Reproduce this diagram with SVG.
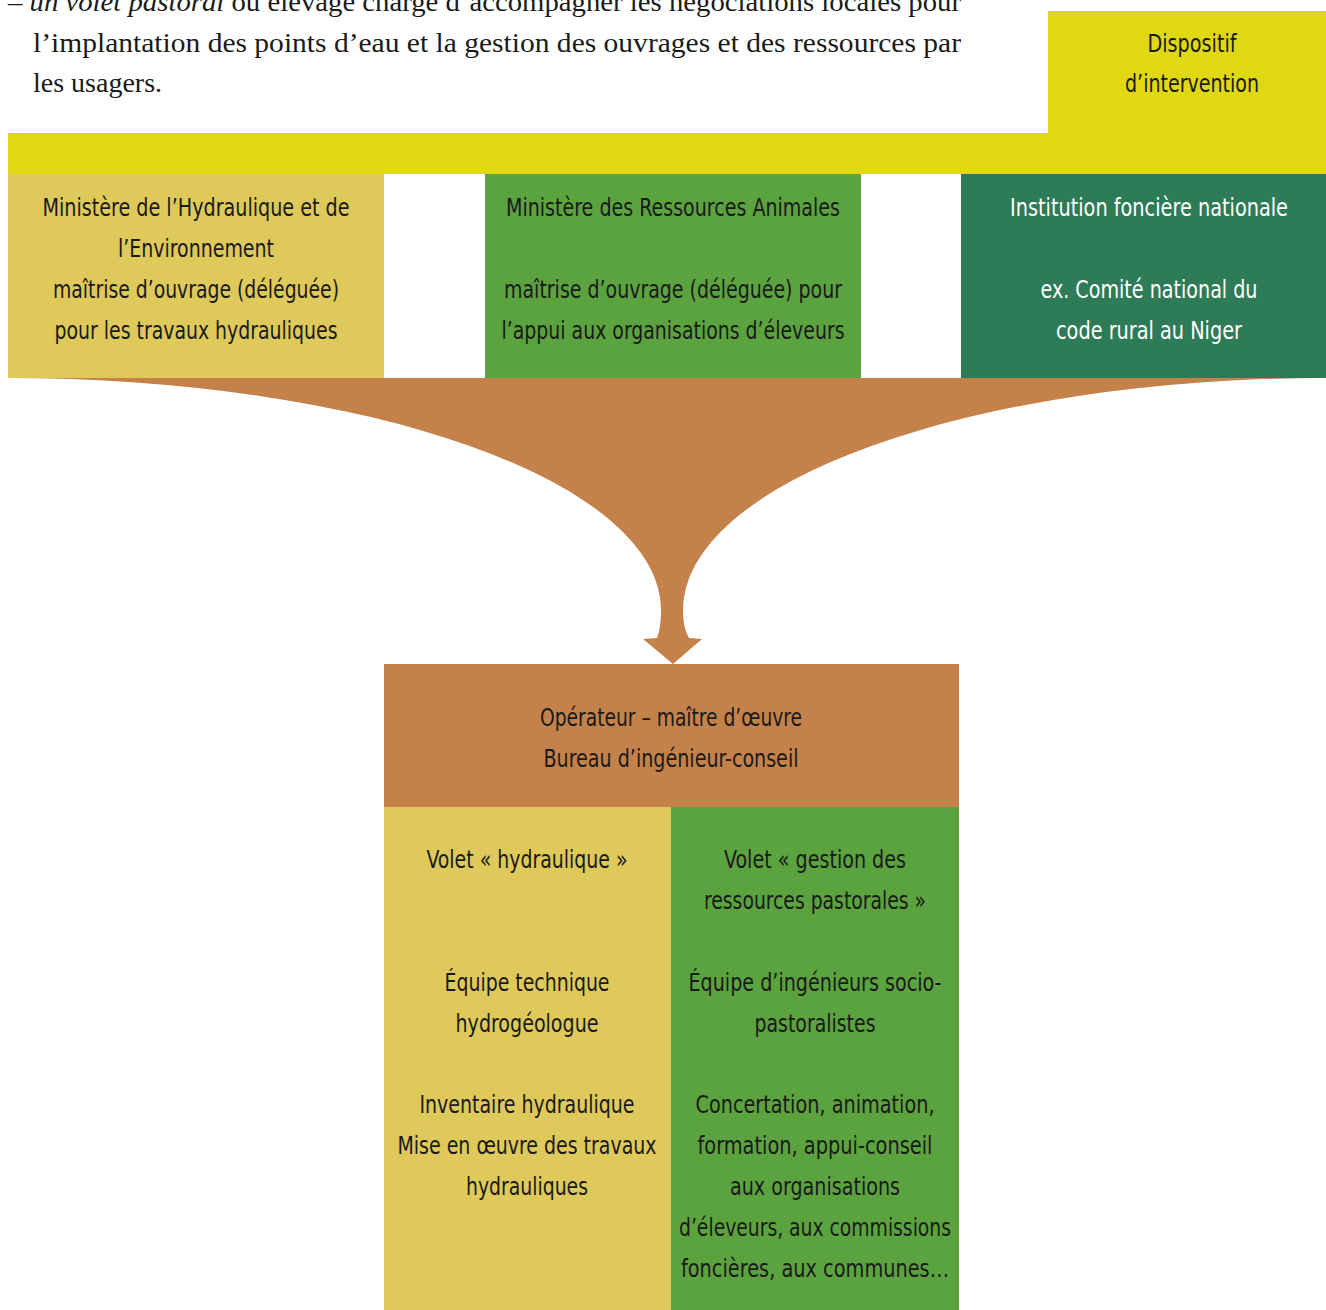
<svg xmlns="http://www.w3.org/2000/svg" width="1326" height="1310" viewBox="0 0 1326 1310">
<style>
.t{font-family:"Liberation Sans Narrow","DejaVu Sans Condensed","Liberation Sans",sans-serif;font-size:24px;fill:#1a1a1a;text-anchor:middle}
.w{fill:#ffffff}
.serif{font-family:"Liberation Serif",serif;font-size:28px;fill:#1a1a1a}
</style>
<rect width="1326" height="1310" fill="#ffffff"/>
<g id="intro">
<text class="serif" x="8" y="11" textLength="953" lengthAdjust="spacingAndGlyphs">– <tspan font-style="italic">un volet pastoral</tspan> ou élevage chargé d’accompagner les négociations locales pour</text>
<text class="serif" x="33" y="52" textLength="928" lengthAdjust="spacingAndGlyphs">l’implantation des points d’eau et la gestion des ouvrages et des ressources par</text>
<text class="serif" x="33" y="92">les usagers.</text>
</g>
<g id="header">
<rect x="1048" y="11" width="278" height="163" fill="#E0D813"/>
<rect x="8" y="133" width="1318" height="41" fill="#E0D813"/>
<text class="t" x="1192" y="52" textLength="89" lengthAdjust="spacingAndGlyphs">Dispositif</text>
<text class="t" x="1192" y="92" textLength="134" lengthAdjust="spacingAndGlyphs">d’intervention</text>
</g>
<g id="connectors">
<path d="M 8 378 L 1326 378 A 643 232 0 0 0 683 610 C 683 625 686 632 689 638 L 702 639 L 673 664 L 643 639 L 657 638 C 659 632 661 625 661 610 A 653 232 0 0 0 8 378 Z" fill="#C4814A"/>
</g>
<g id="n-hydraulique">
<rect x="8" y="174" width="376" height="204" fill="#DEC95A"/>
<text class="t" x="196" y="216" textLength="307" lengthAdjust="spacingAndGlyphs">Ministère de l’Hydraulique et de</text>
<text class="t" x="196" y="257" textLength="156" lengthAdjust="spacingAndGlyphs">l’Environnement</text>
<text class="t" x="196" y="298" textLength="286" lengthAdjust="spacingAndGlyphs">maîtrise d’ouvrage (déléguée)</text>
<text class="t" x="196" y="339" textLength="283" lengthAdjust="spacingAndGlyphs">pour les travaux hydrauliques</text>
</g>
<g id="n-ressources">
<rect x="485" y="174" width="376" height="204" fill="#5BA33F"/>
<text class="t" x="673" y="216" textLength="334" lengthAdjust="spacingAndGlyphs">Ministère des Ressources Animales</text>
<text class="t" x="673" y="298" textLength="338" lengthAdjust="spacingAndGlyphs">maîtrise d’ouvrage (déléguée) pour</text>
<text class="t" x="673" y="339" textLength="343" lengthAdjust="spacingAndGlyphs">l’appui aux organisations d’éleveurs</text>
</g>
<g id="n-fonciere">
<rect x="961" y="174" width="365" height="204" fill="#2E7B57"/>
<text class="t w" x="1149" y="216" textLength="278" lengthAdjust="spacingAndGlyphs">Institution foncière nationale</text>
<text class="t w" x="1149" y="298" textLength="217" lengthAdjust="spacingAndGlyphs">ex. Comité national du</text>
<text class="t w" x="1149" y="339" textLength="186" lengthAdjust="spacingAndGlyphs">code rural au Niger</text>
</g>
<g id="n-operateur">
<rect x="384" y="664" width="575" height="143" fill="#C4814A"/>
<text class="t" x="671" y="726" textLength="262" lengthAdjust="spacingAndGlyphs">Opérateur – maître d’œuvre</text>
<text class="t" x="671" y="767" textLength="255" lengthAdjust="spacingAndGlyphs">Bureau d’ingénieur-conseil</text>
</g>
<g id="n-volet-hydraulique">
<rect x="384" y="807" width="287" height="503" fill="#DEC95A"/>
<text class="t" x="527" y="868" textLength="201" lengthAdjust="spacingAndGlyphs">Volet « hydraulique »</text>
<text class="t" x="527" y="991" textLength="165" lengthAdjust="spacingAndGlyphs">Équipe technique</text>
<text class="t" x="527" y="1032" textLength="143" lengthAdjust="spacingAndGlyphs">hydrogéologue</text>
<text class="t" x="527" y="1113" textLength="215" lengthAdjust="spacingAndGlyphs">Inventaire hydraulique</text>
<text class="t" x="527" y="1154" textLength="259" lengthAdjust="spacingAndGlyphs">Mise en œuvre des travaux</text>
<text class="t" x="527" y="1195" textLength="122" lengthAdjust="spacingAndGlyphs">hydrauliques</text>
</g>
<g id="n-volet-pastoral">
<rect x="671" y="807" width="288" height="503" fill="#5BA33F"/>
<text class="t" x="815" y="868" textLength="182" lengthAdjust="spacingAndGlyphs">Volet « gestion des</text>
<text class="t" x="815" y="909" textLength="222" lengthAdjust="spacingAndGlyphs">ressources pastorales »</text>
<text class="t" x="815" y="991" textLength="253" lengthAdjust="spacingAndGlyphs">Équipe d’ingénieurs socio-</text>
<text class="t" x="815" y="1032" textLength="121" lengthAdjust="spacingAndGlyphs">pastoralistes</text>
<text class="t" x="815" y="1113" textLength="239" lengthAdjust="spacingAndGlyphs">Concertation, animation,</text>
<text class="t" x="815" y="1154" textLength="235" lengthAdjust="spacingAndGlyphs">formation, appui-conseil</text>
<text class="t" x="815" y="1195" textLength="170" lengthAdjust="spacingAndGlyphs">aux organisations</text>
<text class="t" x="815" y="1236" textLength="272" lengthAdjust="spacingAndGlyphs">d’éleveurs, aux commissions</text>
<text class="t" x="815" y="1277" textLength="268" lengthAdjust="spacingAndGlyphs">foncières, aux communes…</text>
</g>
</svg>
